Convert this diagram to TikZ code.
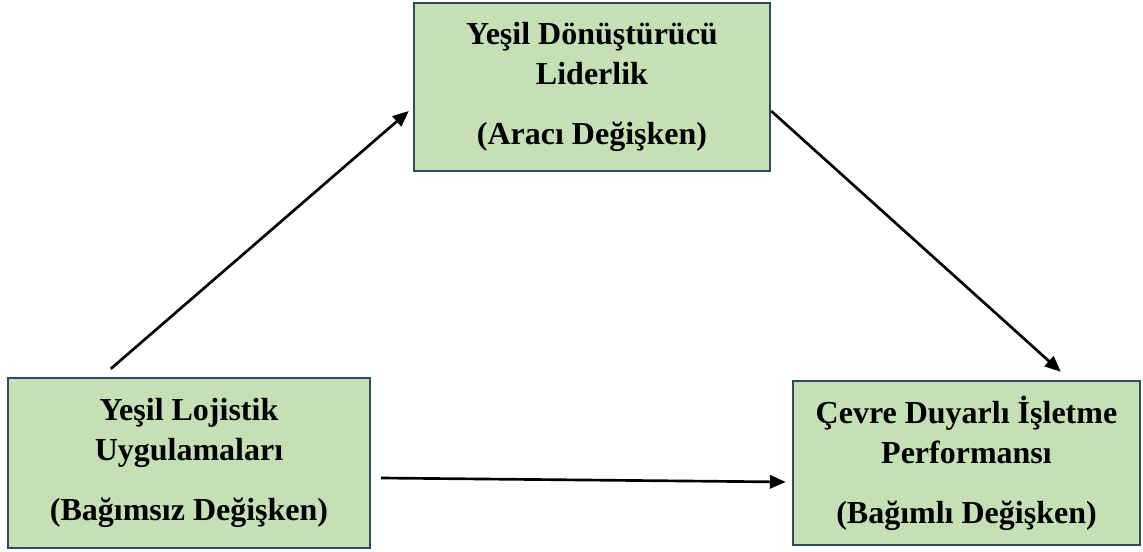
\documentclass[tikz,border=0pt]{standalone}
\usepackage{fontspec}
\setmainfont{Liberation Serif}
\usepackage{xcolor}
\usetikzlibrary{arrows.meta, positioning, calc}
\definecolor{boxfill}{HTML}{C5E0B4}
\definecolor{boxline}{HTML}{2F4A63}
\begin{document}
\begin{tikzpicture}[x=0.75pt, y=-0.75pt, >={Triangle[length=12pt,width=10pt]}]
            \tikzset{varbox/.style={rectangle, draw=boxline, fill=boxfill, line width=1.8pt, align=center, inner sep=0pt,
                    font=\fontsize{24}{30}\selectfont\bfseries},
                    arr/.style={->, line width=2pt}}
            \useasboundingbox (0,0) rectangle (1143,552);
            % nodes
            \node[varbox, minimum width=267pt, minimum height=126pt] (T) at (592,87) {Yeşil Dönüştürücü\\Liderlik\\[15pt](Aracı Değişken)};
            \node[varbox, minimum width=271.5pt, minimum height=127.5pt] (L) at (189,463) {Yeşil Lojistik\\Uygulamaları\\[15pt](Bağımsız Değişken)};
            \node[varbox, minimum width=260.25pt, minimum height=123pt] (R) at (966.5,463) {Çevre Duyarlı İşletme\\Performansı\\[15pt](Bağımlı Değişken)};
            % paths
            \draw[arr] ([xshift=78pt, yshift=6pt]L.north west) -- ([xshift=-3pt, yshift=-18pt]T.west);
            \draw[arr] ([yshift=-18pt]T.east) -- ([xshift=201.75pt, yshift=6pt]R.north west);
            \draw[arr] ([xshift=7.5pt, yshift=-11.25pt]L.east) -- ([xshift=-4.5pt, yshift=-14.25pt]R.west);
        \end{tikzpicture}
\end{document}
